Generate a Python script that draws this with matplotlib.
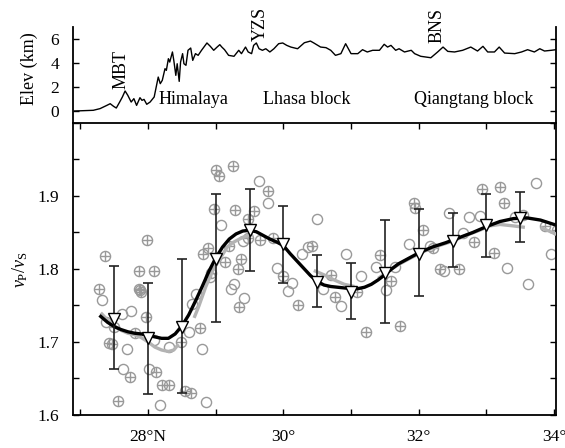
import numpy as np
import matplotlib
matplotlib.use('Agg')
import matplotlib.pyplot as plt

plt.rcParams['font.family'] = ['Liberation Serif', 'DejaVu Serif']
plt.rcParams['mathtext.fontset'] = 'custom'
plt.rcParams['mathtext.rm'] = 'Liberation Serif'
plt.rcParams['mathtext.it'] = 'Liberation Serif:italic'

# elevation profile (lon, km)
elev_lon = [26.91, 27.19, 27.29, 27.39, 27.44, 27.49, 27.53, 27.58, 27.62, 27.66, 27.70, 27.75,
            27.79, 27.83, 27.88, 27.91, 27.94, 27.98, 28.03, 28.09, 28.15, 28.18, 28.21, 28.25,
            28.27, 28.30, 28.32, 28.36, 28.38, 28.41, 28.43, 28.46, 28.48, 28.51, 28.53, 28.56,
            28.59, 28.63, 28.66, 28.70, 28.74, 28.79, 28.87, 28.92, 28.97, 29.02, 29.06, 29.09,
            29.13, 29.19, 29.27, 29.34, 29.38, 29.44, 29.48, 29.53, 29.56, 29.60, 29.64, 29.69,
            29.74, 29.80, 29.86, 29.93, 29.99, 30.05, 30.11, 30.21, 30.31, 30.40, 30.45, 30.55,
            30.63, 30.70, 30.77, 30.85, 30.92, 31.00, 31.10, 31.17, 31.24, 31.32, 31.42, 31.49,
            31.54, 31.59, 31.66, 31.71, 31.79, 31.89, 31.94, 32.03, 32.18, 32.28, 32.36, 32.43,
            32.53, 32.65, 32.77, 32.87, 32.95, 33.02, 33.12, 33.19, 33.27, 33.42, 33.52, 33.61,
            33.71, 33.79, 33.86, 33.96, 34.03]
elev_km = [0.0, 0.06, 0.2, 0.47, 0.61, 0.39, 0.25, 0.75, 1.17, 1.67, 1.31, 0.75,
           1.03, 0.47, 1.11, 0.89, 0.97, 0.56, 0.75, 1.17, 2.83, 2.28, 2.56, 3.53,
           3.39, 4.36, 4.08, 4.92, 4.22, 2.97, 3.94, 2.47, 4.08, 4.78, 3.94, 3.81,
           5.06, 5.25, 4.22, 4.78, 4.64, 5.06, 5.67, 5.39, 5.06, 5.33, 5.53, 5.33,
           5.11, 4.64, 4.56, 5.06, 4.78, 5.33, 4.92, 4.78, 5.47, 5.67, 5.19, 5.06,
           5.19, 4.92, 5.19, 5.61, 5.67, 5.47, 5.33, 5.19, 5.69, 5.83, 5.67, 5.33,
           5.28, 5.06, 4.64, 4.78, 5.61, 4.78, 4.78, 5.11, 4.92, 5.06, 5.06, 5.56,
           5.33, 5.47, 5.06, 5.19, 4.92, 5.06, 4.78, 4.56, 4.44, 4.92, 5.33, 4.97,
           4.92, 5.06, 5.33, 5.0, 5.39, 4.92, 4.92, 5.33, 4.83, 4.78, 4.92, 5.11,
           4.92, 5.19, 5.0, 5.06, 5.11]

# open circles
circ_lon = [27.32, 27.38, 27.61, 27.75, 27.69, 27.63, 28.08, 28.01, 28.17, 28.31, 28.60, 28.71,
            28.65, 28.79, 28.86, 28.92, 29.08, 29.27, 29.23, 29.42, 29.64, 29.77, 29.91, 30.13,
            30.07, 30.49, 30.28, 30.36, 30.58, 30.85, 30.92, 31.15, 31.37, 31.51, 31.65, 31.86,
            32.17, 32.38, 32.45, 32.66, 32.74, 32.90, 33.30, 33.42, 33.54, 33.74, 33.62, 33.96, 29.40]
circ_val = [1.758, 1.728, 1.738, 1.743, 1.690, 1.663, 1.703, 1.663, 1.614, 1.693, 1.714, 1.766,
            1.752, 1.691, 1.618, 1.789, 1.860, 1.780, 1.773, 1.760, 1.920, 1.891, 1.802, 1.781,
            1.770, 1.868, 1.820, 1.830, 1.773, 1.749, 1.821, 1.791, 1.803, 1.771, 1.803, 1.834,
            1.831, 1.797, 1.877, 1.849, 1.871, 1.873, 1.802, 1.871, 1.874, 1.918, 1.780, 1.820, 1.838]

# crossed circles
plus_lon = [27.27, 27.37, 27.42, 27.47, 27.49, 27.56, 27.73, 27.80, 27.86, 27.86, 27.88, 27.90,
            27.97, 27.99, 28.08, 28.11, 28.21, 28.31, 28.49, 28.55, 28.63, 28.76, 28.81, 28.89,
            28.93, 28.98, 29.00, 29.05, 29.13, 29.19, 29.26, 29.29, 29.33, 29.34, 29.37, 29.47,
            29.47, 29.56, 29.65, 29.77, 29.85, 30.00, 30.21, 30.42, 30.71, 30.77, 31.09, 31.22,
            31.43, 31.59, 31.73, 31.93, 31.94, 32.07, 32.21, 32.31, 32.59, 32.82, 32.94, 33.11,
            33.20, 33.26, 33.86, 34.04]
plus_val = [1.772, 1.818, 1.698, 1.697, 1.721, 1.619, 1.652, 1.712, 1.797, 1.773, 1.771, 1.769,
            1.734, 1.840, 1.797, 1.659, 1.641, 1.641, 1.700, 1.633, 1.630, 1.719, 1.821, 1.829,
            1.794, 1.882, 1.936, 1.928, 1.809, 1.831, 1.941, 1.881, 1.800, 1.748, 1.813, 1.868,
            1.843, 1.880, 1.840, 1.907, 1.842, 1.790, 1.750, 1.831, 1.792, 1.762, 1.769, 1.714,
            1.819, 1.784, 1.722, 1.891, 1.883, 1.854, 1.829, 1.800, 1.800, 1.837, 1.909, 1.822,
            1.912, 1.890, 1.859, 1.854]

# binned averages with error bars
tri_lon = [27.5, 28.0, 28.5, 29.0, 29.5, 30.0, 30.5, 31.0, 31.5, 32.0, 32.5, 33.0, 33.5]
tri_val = [1.732, 1.705, 1.720, 1.814, 1.853, 1.834, 1.782, 1.769, 1.795, 1.821, 1.838, 1.860, 1.870]
tri_top = [1.804, 1.781, 1.813, 1.903, 1.909, 1.886, 1.819, 1.808, 1.867, 1.882, 1.876, 1.903, 1.905]
tri_bot = [1.663, 1.629, 1.630, 1.728, 1.797, 1.781, 1.748, 1.731, 1.726, 1.763, 1.803, 1.817, 1.837]

# smoothed curve (black)
blk_lon = [27.30, 27.40, 27.50, 27.60, 27.70, 27.80, 27.90, 28.00, 28.10, 28.20, 28.30, 28.40,
           28.50, 28.60, 28.70, 28.80, 28.90, 29.00, 29.10, 29.20, 29.30, 29.40, 29.50, 29.60,
           29.70, 29.80, 29.90, 30.00, 30.10, 30.20, 30.30, 30.40, 30.50, 30.60, 30.70, 30.80,
           30.90, 31.00, 31.10, 31.20, 31.30, 31.40, 31.50, 31.60, 31.70, 31.80, 31.90, 32.00,
           32.20, 32.40, 32.60, 32.80, 33.00, 33.20, 33.40, 33.60, 33.80, 34.00, 34.05]
blk_val = [1.735, 1.727, 1.721, 1.717, 1.714, 1.712, 1.711, 1.709, 1.707, 1.705, 1.705, 1.711,
           1.722, 1.737, 1.756, 1.776, 1.797, 1.815, 1.830, 1.841, 1.848, 1.852, 1.853, 1.851,
           1.846, 1.841, 1.837, 1.832, 1.821, 1.811, 1.801, 1.791, 1.783, 1.778, 1.776, 1.775,
           1.774, 1.773, 1.773, 1.775, 1.779, 1.785, 1.792, 1.800, 1.807, 1.812, 1.817, 1.822,
           1.830, 1.836, 1.843, 1.850, 1.858, 1.865, 1.869, 1.870, 1.867, 1.861, 1.860]

# second smoothed curve (grey, broken)
gry_segs = [
    ([27.30, 27.40, 27.50, 27.60, 27.70, 27.80, 27.90, 28.00, 28.10, 28.20, 28.30, 28.38, 28.45],
     [1.740, 1.730, 1.722, 1.716, 1.712, 1.710, 1.706, 1.700, 1.693, 1.689, 1.687, 1.689, 1.697]),
    ([28.68, 28.75, 28.85, 28.95, 29.05, 29.17, 29.25, 29.35, 29.45, 29.55],
     [1.733, 1.749, 1.775, 1.797, 1.812, 1.830, 1.836, 1.841, 1.845, 1.848]),
    ([30.45, 30.60, 30.75, 30.90, 31.05],
     [1.798, 1.792, 1.785, 1.779, 1.776]),
    ([31.40, 31.55, 31.70, 31.90, 32.10, 32.30, 32.50, 32.70, 32.90, 33.05, 33.20, 33.40, 33.57],
     [1.787, 1.797, 1.806, 1.816, 1.825, 1.832, 1.838, 1.846, 1.853, 1.859, 1.861, 1.859, 1.857]),
    ([33.80, 33.90, 34.00, 34.05],
     [1.857, 1.853, 1.849, 1.847]),
]

xlim = (26.89, 34.03)
grey = '#999999'

fig = plt.figure(figsize=(5.65, 4.48), dpi=100)
ax = fig.add_axes([0.1292, 0.0737, 0.8549, 0.6518])
axt = fig.add_axes([0.1292, 0.7254, 0.8549, 0.2143])

# --- top: elevation ---
axt.plot(elev_lon, elev_km, color='black', lw=1.0)
axt.set_xlim(xlim)
axt.set_ylim(-1, 7)
axt.set_yticks([0, 2, 4, 6])
axt.set_xticks([])
axt.spines['top'].set_visible(False)
axt.spines['bottom'].set_visible(False)
for s in ['left', 'right']:
    axt.spines[s].set_linewidth(1.3)
axt.tick_params(axis='y', direction='in', left=True, right=True, length=4, width=1,
                labelsize=12.5, pad=10)
axt.patch.set_alpha(0)

tsize = 13
axt.text(28.15, 0.6, 'Himalaya', fontsize=tsize, va='baseline', ha='left')
axt.text(29.70, 0.6, 'Lhasa block', fontsize=tsize, va='baseline', ha='left')
axt.text(31.93, 0.6, 'Qiangtang block', fontsize=tsize, va='baseline', ha='left')
axt.text(27.60, 1.85, 'MBT', fontsize=tsize, rotation=90, ha='center', va='bottom')
axt.text(29.66, 5.85, 'YZS', fontsize=tsize, rotation=90, ha='center', va='bottom', clip_on=False)
axt.text(32.27, 5.70, 'BNS', fontsize=tsize, rotation=90, ha='center', va='bottom', clip_on=False)
fig.text(29 / 565, 1 - 69 / 448, 'Elev (km)', rotation=90, ha='center', va='center', fontsize=tsize)

# --- bottom: vp/vs ---
ms = 7.3
ax.plot(circ_lon, circ_val, 'o', mfc='none', mec=grey, mew=1.0, ms=ms, ls='none', zorder=2)
ax.plot(plus_lon, plus_val, 'o', mfc='none', mec=grey, mew=1.0, ms=ms, ls='none', zorder=2)
ax.plot(plus_lon, plus_val, '+', mec=grey, mew=1.0, ms=ms, ls='none', zorder=2)

for xs, ys in gry_segs:
    ax.plot(xs, ys, color='#b3b3b3', lw=2.4, solid_capstyle='butt', zorder=3)
ax.plot(blk_lon, blk_val, color='black', lw=2.4, zorder=4)

yerr = [np.array(tri_val) - np.array(tri_bot), np.array(tri_top) - np.array(tri_val)]
ax.errorbar(tri_lon, tri_val, yerr=yerr, fmt='none', ecolor='#222222', elinewidth=1.2,
            capsize=3.5, capthick=1.2, zorder=5)
ax.plot(tri_lon, tri_val, 'v', mfc='white', mec='black', mew=1.0, ms=8, ls='none', zorder=6)

ax.set_xlim(xlim)
ax.set_ylim(1.6, 2.0)
ax.set_xticks(list(range(27, 35)))
ax.set_xticklabels(['', '28°N', '', '30°', '', '32°', '', '34°'])
yt = [1.6, 1.65, 1.7, 1.75, 1.8, 1.85, 1.9, 1.95, 2.0]
ax.set_yticks(yt)
ax.set_yticklabels(['1.6', '', '1.7', '', '1.8', '', '1.9', '', ''])
ax.tick_params(direction='in', top=True, right=True, length=4, width=1, labelsize=12.5)
ax.tick_params(axis='y', pad=10)
ax.tick_params(axis='x', pad=10)
for s in ax.spines.values():
    s.set_linewidth(1.3)
fig.text(20 / 565, 1 - 270 / 448, r'$v_{\mathrm{P}}/v_{\mathrm{S}}$', rotation=90,
         ha='center', va='center', fontsize=tsize)

fig.savefig('out.png', dpi=100)
